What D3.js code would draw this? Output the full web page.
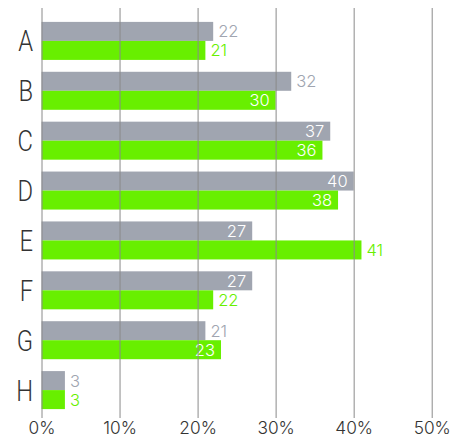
<!DOCTYPE html>
<html><head><meta charset="utf-8">
<script src="https://cdn.jsdelivr.net/npm/d3@7"></script>
<style>body{margin:0;background:#fff}svg{display:block}</style>
</head><body>
<svg id="c" width="460" height="437"></svg>
<script>
const categories = ["A","B","C","D","E","F","G","H"];
const seriesGray  = [22,32,37,40,27,27,21,3];
const seriesGreen = [21,30,36,38,41,22,23,3];
const grayInside  = [false,false,true,true,true,true,false,false];
const greenInside = [false,true,true,true,false,false,true,false];
const tickValues = [0,10,20,30,40,50];

const GRAY = "#a0a5b0", GREEN = "#68ef00", GRID = "#8a8a8a";
const svg = d3.select("#c");
const x = d3.scaleLinear().domain([0,50]).range([41.5,431.7]);
const y = d3.scaleBand().domain(categories).range([21.9,409.1]).paddingInner(0.238).paddingOuter(0);
const sub = d3.scaleBand().domain(["gray","green"]).range([0,y.bandwidth()]);

const rows = categories.map((c,i)=>({c, vals:[
  {k:"gray", v:seriesGray[i], inside:grayInside[i], col:GRAY},
  {k:"green", v:seriesGreen[i], inside:greenInside[i], col:GREEN}]}));

const g = svg.append("g");
const grp = g.selectAll("g.row").data(rows).join("g").attr("transform",d=>`translate(0,${y(d.c)})`);
grp.selectAll("rect").data(d=>d.vals).join("rect")
  .attr("x",x(0)).attr("y",d=>sub(d.k)).attr("width",d=>x(d.v)-x(0)).attr("height",sub.bandwidth())
  .attr("fill",d=>d.col);

// gridlines
const axis = d3.axisBottom(x).tickValues(tickValues).tickFormat(d=>d+"%").tickSize(410).tickSizeOuter(0);
const ax = svg.append("g").attr("transform","translate(0,8)").call(axis);
ax.select(".domain").remove();
ax.selectAll(".tick line").attr("stroke",GRID).attr("stroke-width",1);
ax.selectAll(".tick text").attr("y",426).attr("dy",0).attr("fill","#333")
  .style("font-family","Inter").style("font-weight",300).style("font-size","17.3px");

// value labels
grp.selectAll("text.val").data(d=>d.vals).join("text").attr("class","val")
  .attr("x",d=>d.inside ? x(d.v)-6 : x(d.v)+5)
  .attr("y",d=>sub(d.k)+sub.bandwidth()/2)
  .attr("dy","0.36em")
  .attr("text-anchor",d=>d.inside?"end":"start")
  .attr("fill",d=>d.inside?"#fff":d.col)
  .style("font-family","Inter").style("font-weight",300).style("font-size","16.5px")
  .text(d=>d.v);

// category labels
svg.selectAll("text.cat").data(categories).join("text").attr("class","cat")
  .attr("transform",d=>`translate(33,${y(d)+y.bandwidth()/2}) scale(0.82,1)`)
  .attr("dy","0.36em")
  .attr("text-anchor","end").attr("fill","#333")
  .style("font-family","Roboto").style("font-weight",300).style("font-size","29px")
  .text(d=>d);
</script>
</body></html>
